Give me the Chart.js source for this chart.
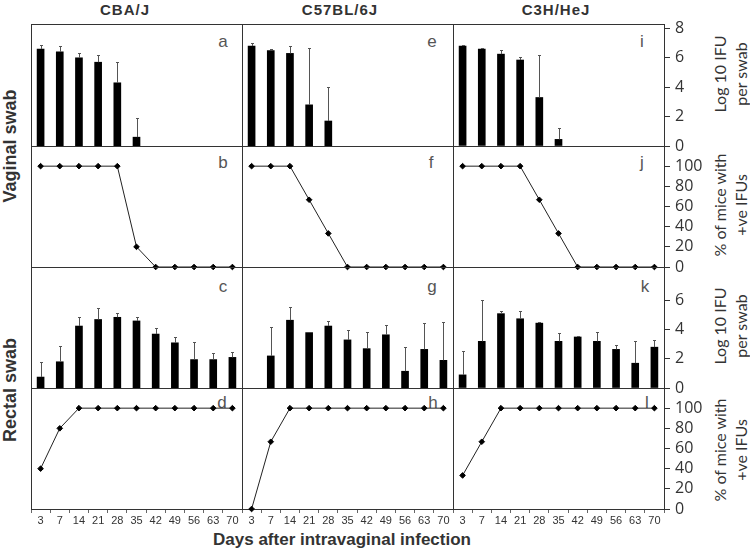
<!DOCTYPE html>
<html>
<head>
<meta charset="utf-8">
<script src="https://cdn.jsdelivr.net/npm/chart.js@4/dist/chart.umd.min.js"></script>
<style>
  body { margin: 0; background: #fff; }
  #fig { position: relative; width: 750px; height: 550px; overflow: hidden;
         font-family: "Liberation Sans", Arial, sans-serif; color: #333; }
  #fig canvas { position: absolute; }
  .lbl { position: absolute; white-space: nowrap; transform: translate(-50%, -50%); }
  .rot { text-align: center; transform: translate(-50%, -50%) rotate(-90deg); }
  .title { font-weight: bold; font-size: 15px; letter-spacing: 1px; }
  .side { font-weight: bold; font-size: 18px; }
  .axisT { font-family: Lato, sans-serif; font-size: 16px; line-height: 21px; }
  .panel { font-size: 17px; color: #555; }
  .xlab { font-weight: bold; font-size: 17px; }
</style>
</head>
<body>
<div id="fig">
  <div class="lbl title" style="left:125px;top:9px">CBA/J</div>
  <div class="lbl title" style="left:340px;top:9px">C57BL/6J</div>
  <div class="lbl title" style="left:556px;top:9px">C3H/HeJ</div>

  <div class="lbl rot side" style="left:10px;top:146px">Vaginal swab</div>
  <div class="lbl rot side" style="left:10px;top:390px">Rectal swab</div>

  <div class="lbl rot axisT" style="left:730px;top:74px">Log 10 IFU<br>per swab</div>
  <div class="lbl rot axisT" style="left:730px;top:205px">% of mice with<br>+ve IFUs</div>
  <div class="lbl rot axisT" style="left:730px;top:326px">Log 10 IFU<br>per swab</div>
  <div class="lbl rot axisT" style="left:730px;top:450px">% of mice with<br>+ve IFUs</div>

  <div class="lbl panel" style="left:223px;top:42px">a</div>
  <div class="lbl panel" style="left:223px;top:163px">b</div>
  <div class="lbl panel" style="left:223px;top:287px">c</div>
  <div class="lbl panel" style="left:222px;top:403px">d</div>
  <div class="lbl panel" style="left:432px;top:42px">e</div>
  <div class="lbl panel" style="left:431px;top:163px">f</div>
  <div class="lbl panel" style="left:432px;top:287px">g</div>
  <div class="lbl panel" style="left:433px;top:403px">h</div>
  <div class="lbl panel" style="left:642px;top:42px">i</div>
  <div class="lbl panel" style="left:642px;top:163px">j</div>
  <div class="lbl panel" style="left:645px;top:287px">k</div>
  <div class="lbl panel" style="left:647px;top:403px">l</div>

  <div class="lbl xlab" style="left:342px;top:540px">Days after intravaginal infection</div>
</div>
<script>
// Days post infection (shared x categories)
const days = ["3", "7", "14", "21", "28", "35", "42", "49", "56", "63", "70"];

// Vaginal swab, log10 IFU per swab (mean) and upper error
const vagLogCBA = [6.6, 6.4, 6.0, 5.7, 4.3, 0.6, null, null, null, null, null];
const vagErrCBA = [0.3, 0.4, 0.3, 0.5, 1.4, 1.3, 0, 0, 0, 0, 0];
const vagLogC57 = [6.8, 6.5, 6.3, 2.8, 1.7, null, null, null, null, null, null];
const vagErrC57 = [0.2, 0.1, 0.5, 3.9, 2.3, 0, 0, 0, 0, 0, 0];
const vagLogC3H = [6.8, 6.6, 6.25, 5.85, 3.3, 0.45, null, null, null, null, null];
const vagErrC3H = [0.05, 0.1, 0.25, 0.2, 2.9, 0.8, 0, 0, 0, 0, 0];

// Vaginal swab, % of mice with positive IFUs
const vagPctCBA = [100, 100, 100, 100, 100, 20, 0, 0, 0, 0, 0];
const vagPctC57 = [100, 100, 100, 66.7, 33.3, 0, 0, 0, 0, 0, 0];
const vagPctC3H = [100, 100, 100, 100, 66.7, 33.3, 0, 0, 0, 0, 0];

// Rectal swab, log10 IFU per swab (mean) and upper error
const recLogCBA = [0.75, 1.8, 4.25, 4.7, 4.85, 4.6, 3.7, 3.1, 1.95, 1.95, 2.1];
const recErrCBA = [1.0, 1.1, 0.6, 0.8, 0.3, 0.3, 0.4, 0.4, 1.2, 0.45, 0.35];
const recLogC57 = [null, 2.2, 4.65, 3.8, 4.25, 3.3, 2.7, 3.65, 1.15, 2.65, 1.9];
const recErrC57 = [0, 2.0, 0.9, 0, 0.35, 0.7, 1.15, 0.7, 1.65, 1.8, 2.65];
const recLogC3H = [0.9, 3.2, 5.1, 4.75, 4.45, 3.2, 3.5, 3.2, 2.65, 1.7, 2.8];
const recErrC3H = [1.65, 2.85, 0.15, 0.5, 0.05, 0.6, 0.1, 0.65, 0.3, 1.5, 0.5];

// Rectal swab, % of mice with positive IFUs
const recPctCBA = [40, 80, 100, 100, 100, 100, 100, 100, 100, 100, 100];
const recPctC57 = [0, 66.7, 100, 100, 100, 100, 100, 100, 100, 100, 100];
const recPctC3H = [33.3, 66.7, 100, 100, 100, 100, 100, 100, 100, 100, 100];

// Right-hand tick labels per row
const logTicksTop = [0, 2, 4, 6, 8];
const logTicksLow = [0, 2, 4, 6];
const pctTicks = [0, 20, 40, 60, 80, 100];

// grid of panels: rows x columns
const rows = [
  { kind: "bar", max: 8.3, ticks: logTicksTop, vals: [vagLogCBA, vagLogC57, vagLogC3H], errs: [vagErrCBA, vagErrC57, vagErrC3H] },
  { kind: "line", max: 120, ticks: pctTicks, vals: [vagPctCBA, vagPctC57, vagPctC3H] },
  { kind: "bar", max: 8.3, ticks: logTicksLow, vals: [recLogCBA, recLogC57, recLogC3H], errs: [recErrCBA, recErrC57, recErrC3H] },
  { kind: "line", max: 120, ticks: pctTicks, vals: [recPctCBA, recPctC57, recPctC3H] },
];

const PAD = 20;
const LEFT = 31, COL_W = 211;
const ROW_TOP = [24, 146, 267, 388];
const ROW_H = [122, 121, 121, 121];
const AXIS_W = 52, AXIS_H = 22;
const fig = document.getElementById("fig");

// box round each panel
const framePlugin = {
  id: "frame",
  beforeDatasetsDraw(chart) {
    const { ctx, chartArea: a } = chart;
    ctx.save();
    ctx.strokeStyle = "#333";
    ctx.lineWidth = 1;
    ctx.strokeRect(Math.round(a.left) + 0.5, Math.round(a.top) + 0.5,
      Math.round(a.right - a.left), Math.round(a.bottom - a.top));
    ctx.restore();
  },
};

// upper error bars with a small cap
const errorBarPlugin = {
  id: "errorBars",
  afterDatasetsDraw(chart) {
    const ds = chart.data.datasets[0];
    if (!ds.errors) return;
    const { ctx } = chart;
    const y = chart.scales.y;
    const meta = chart.getDatasetMeta(0);
    ctx.save();
    ctx.strokeStyle = "#555";
    ctx.lineWidth = 1;
    ctx.beginPath();
    meta.data.forEach((bar, i) => {
      const v = ds.data[i], e = ds.errors[i];
      if (v == null || !e) return;
      const x = Math.round(bar.x) + 0.5;
      const top = Math.round(y.getPixelForValue(v + e)) + 0.5;
      ctx.moveTo(x, bar.y);
      ctx.lineTo(x, top);
      ctx.moveTo(x - 1.5, top);
      ctx.lineTo(x + 1.5, top);
    });
    ctx.stroke();
    ctx.restore();
  },
};

rows.forEach((row, r) => {
  for (let c = 0; c < 3; c++) {
    const showY = c === 2;
    const showX = r === 3;
    const canvas = document.createElement("canvas");
    canvas.width = PAD * 2 + COL_W + (showY ? AXIS_W : 0);
    canvas.height = PAD * 2 + ROW_H[r] + (showX ? AXIS_H : 0);
    canvas.style.left = (LEFT + c * COL_W - PAD) + "px";
    canvas.style.top = (ROW_TOP[r] - PAD) + "px";
    fig.appendChild(canvas);

    const dataset = row.kind === "bar"
      ? { data: row.vals[c], errors: row.errs[c], backgroundColor: "#000", barThickness: 7 }
      : { data: row.vals[c], borderColor: "#222", borderWidth: 1, tension: 0, clip: false,
          pointStyle: "rectRot", pointRadius: 2.8, pointBackgroundColor: "#000", pointBorderColor: "#000" };

    new Chart(canvas, {
      type: row.kind,
      data: { labels: days, datasets: [dataset] },
      options: {
        responsive: false,
        animation: false,
        events: [],
        layout: { padding: PAD },
        plugins: { legend: { display: false }, tooltip: { enabled: false } },
        scales: {
          x: {
            type: "category",
            display: showX,
            offset: true,
            grid: { offset: true, drawOnChartArea: false, tickLength: 4, color: "#666" },
            border: { display: false },
            ticks: { font: { family: "Liberation Sans", size: 11 }, color: "#333", padding: 1,
                     maxRotation: 0, autoSkip: false },
            afterFit: (s) => { s.height = showX ? AXIS_H : 0; },
          },
          y: {
            position: "right",
            display: showY,
            min: 0,
            max: row.max,
            afterBuildTicks: (s) => { s.ticks = row.ticks.map((v) => ({ value: v })); },
            grid: { drawOnChartArea: false, tickLength: 6, color: "#333" },
            border: { display: false },
            ticks: { font: { family: "Open Sans", size: 16 }, color: "#333", padding: 5 },
            afterFit: (s) => { s.width = showY ? AXIS_W : 0; },
          },
        },
      },
      plugins: [framePlugin, errorBarPlugin],
    });
  }
});
</script>
</body>
</html>
